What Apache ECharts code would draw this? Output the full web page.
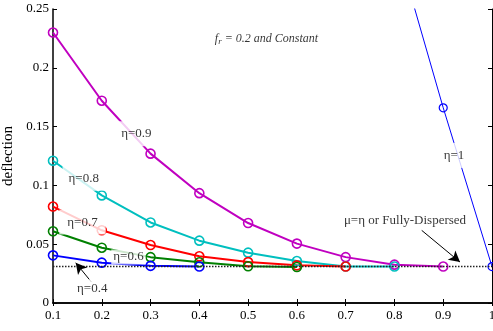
<!DOCTYPE html>
<html><head><meta charset="utf-8">
<script src="https://cdn.jsdelivr.net/npm/echarts@6.0.0/dist/echarts.min.js"></script>
<style>html,body{margin:0;padding:0;background:#fff}#c{width:493px;height:331px}</style>
</head><body><div id="c"></div>
<script>
// ---- data ----
const mu = [0.1, 0.2, 0.3, 0.4, 0.5, 0.6, 0.7, 0.8, 0.9, 1.0];
const eta04 = [0.0405, 0.0343, 0.0316, 0.031];
const eta06 = [0.061, 0.047, 0.039, 0.0346, 0.0312, 0.0306];
const eta07 = [0.082, 0.0618, 0.0493, 0.0397, 0.0348, 0.032, 0.031];
const eta08 = [0.121, 0.0915, 0.0685, 0.053, 0.0428, 0.0357, 0.031, 0.031];
const eta09 = [0.230, 0.172, 0.127, 0.0934, 0.068, 0.0505, 0.039, 0.0326, 0.031];
const eta1Mu = [0.8, 0.9, 1.0];
const eta1 = [0.31, 0.166, 0.031];
const fullyDispersed = 0.031;
const xTicks = ['0.1','0.2','0.3','0.4','0.5','0.6','0.7','0.8','0.9','1'];
const yTicks = ['0','0.05','0.1','0.15','0.2','0.25'];
// annotations (data coordinates)
const labelTexts = ['η=0.9', 'η=0.8', 'η=0.7', 'η=0.6', 'η=0.4', 'η=1', 'μ=η or Fully-Dispersed'];
const labelMu    = [0.271, 0.163, 0.1605, 0.2547, 0.1804, 0.922, 0.8216];
const labelVal   = [0.144, 0.106, 0.0688, 0.0391, 0.0122, 0.1255, 0.0703];
const arrowFrom = [[0.1788, 0.0178], [0.8558, 0.0618]];
const arrowTo   = [[0.1466, 0.0342], [0.9344, 0.0348]];
const noteMu = 0.4318, noteVal = 0.224;

const FONT = '"Liberation Serif","Times New Roman",serif';
const labelPad = [[6, 4], [6, 6], [6, 8], [1, 2], [3, 2], [6, 3], [3, 2]];
const pair = (xs, ys) => ys.map((v, i) => [xs[i], v]);

function curve(name, vals, color, xs, lw, sym, bw) {
  return {
    type: 'line', name, data: pair(xs || mu, vals), z: 3,
    symbol: 'circle', symbolSize: sym || 9,
    lineStyle: { color, width: lw || 2 },
    itemStyle: { color: 'rgba(0,0,0,0)', borderColor: color, borderWidth: bw || 1.6 },
    emphasis: { disabled: true }, clip: true
  };
}

const chart = echarts.init(document.getElementById('c'), null, { renderer: 'canvas' });
const axisFont = { fontFamily: FONT, fontSize: 13, color: '#000' };
chart.setOption({
  animation: false,
  backgroundColor: '#fff',
  grid: { left: 53, right: 1, top: 9, bottom: 28, containLabel: false, outerBoundsMode: 'none' },
  xAxis: [{
    type: 'value', min: 0.1, max: 1, interval: 0.1,
    name: 'μ', nameLocation: 'middle', nameGap: 19,
    nameTextStyle: { fontFamily: FONT, fontSize: 13, color: '#000' },
    axisLine: { lineStyle: { color: '#000', width: 1.5 } },
    axisTick: { inside: true, length: 4, lineStyle: { color: '#000' } },
    axisLabel: Object.assign({ margin: 6, formatter: v => xTicks[Math.round((v - 0.1) * 10)] }, axisFont),
    splitLine: { show: false }
  }, {
    type: 'value', position: 'top', min: 0.1, max: 1, interval: 0.1,
    axisLine: { lineStyle: { color: '#000', width: 1.5 } },
    axisTick: { inside: true, length: 3, lineStyle: { color: '#000' } },
    axisLabel: { show: false }, splitLine: { show: false }
  }],
  yAxis: [{
    type: 'value', min: 0, max: 0.25, interval: 0.05,
    name: 'deflection', nameLocation: 'middle', nameGap: 37, nameRotate: 90,
    nameTextStyle: { fontFamily: FONT, fontSize: 15, color: '#000' },
    axisLine: { show: true, lineStyle: { color: '#000', width: 1.5 } },
    axisTick: { show: true, inside: true, length: 4, lineStyle: { color: '#000' } },
    axisLabel: Object.assign({ margin: 4, formatter: v => yTicks[Math.round(v / 0.05)] }, axisFont),
    splitLine: { show: false }
  }, {
    type: 'value', position: 'right', min: 0, max: 0.25, interval: 0.05,
    axisLine: { show: true, lineStyle: { color: '#000', width: 1 } },
    axisTick: { show: true, inside: true, length: 4, lineStyle: { color: '#000' } },
    axisLabel: { show: false }, splitLine: { show: false }
  }],
  series: [
    {
      type: 'line', name: 'fully', data: mu.map(m => [m, fullyDispersed]), z: 4,
      symbol: 'none', lineStyle: { color: '#222', width: 1.5, type: [1.5, 1.5] },
      emphasis: { disabled: true },
      markLine: {
        silent: true, symbol: ['none', 'arrow'], symbolSize: [9, 11],
        lineStyle: { color: '#000', width: 1, type: 'solid' }, label: { show: false },
        data: arrowFrom.map((f, i) => [{ coord: f }, { coord: arrowTo[i] }])
      }
    },
    curve('η=0.9', eta09, '#c000c0'),
    curve('η=0.8', eta08, '#00bfbf'),
    curve('η=0.7', eta07, '#ff0000'),
    curve('η=0.6', eta06, '#008000'),
    curve('η=0.4', eta04, '#0000ff'),
    curve('η=1', eta1, '#0000ff', eta1Mu, 1, 8, 1.2),
    {
      type: 'scatter', z: 10, symbolSize: 0, silent: true,
      data: labelTexts.map((t, i) => ({ value: [labelMu[i], labelVal[i]], label: { formatter: t, padding: labelPad[i] } })),
      label: { show: true, position: 'inside', fontFamily: FONT, fontSize: 13, color: '#000',
               backgroundColor: '#fff' }
    },
    {
      type: 'scatter', z: 10, symbolSize: 0, silent: true,
      data: [{ value: [noteMu, noteVal] }],
      label: {
        show: true, position: 'inside', align: 'left', verticalAlign: 'middle',
        formatter: '{i|f}{s|r}{i| = 0.2 and Constant}',
        rich: {
          i: { fontFamily: FONT, fontStyle: 'italic', fontSize: 12, color: '#000', lineHeight: 14, verticalAlign: 'top' },
          s: { fontFamily: FONT, fontStyle: 'italic', fontSize: 9, color: '#000', lineHeight: 9, verticalAlign: 'bottom' }
        }
      }
    }
  ]
});
</script>
</body></html>
